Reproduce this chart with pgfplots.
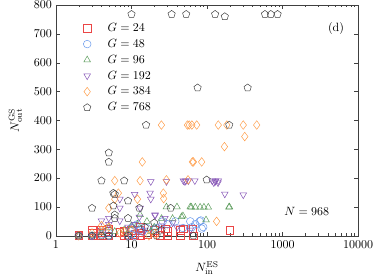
\documentclass[border=0pt]{standalone}
\usepackage{pgfplots}
\pgfplotsset{compat=1.18}
\definecolor{cred}{RGB}{235,70,70}
\definecolor{cblue}{RGB}{100,150,235}
\definecolor{cgreen}{RGB}{90,155,90}
\definecolor{cpurple}{RGB}{130,80,180}
\definecolor{corange}{RGB}{255,155,70}
\definecolor{cgray}{RGB}{60,60,60}
\begin{document}
\begin{tikzpicture}
\begin{axis}[
  name=ax,
  scale only axis,
  width=252pt, height=192.5pt,
  xmode=log, xmin=1, xmax=10000,
  ymin=0, ymax=800,
  xtick={1,10,100,1000,10000},
  xticklabels={1,10,100,1000,10000},
  ytick={0,100,...,800},
  axis line style={black!75},
  tick style={black!75},
  major tick length=3.5pt, minor tick length=2pt,
  xlabel={$N^{\mathrm{ES}}_{\mathrm{in}}$},
  ylabel={$N^{\mathrm{GS}}_{\mathrm{out}}$},
  xlabel style={yshift=-4pt},
  ylabel style={yshift=3pt},
  legend style={draw=none, fill=none, at={(0.056,0.943)}, anchor=north west, row sep=0.9pt, font=\normalsize},
  legend cell align=left,
  legend image code/.code={\path (0cm,0cm) (0.82cm,0cm); \draw[mark repeat=2,mark phase=2] plot coordinates {(0cm,0cm)(0.3cm,0cm)(0.6cm,0cm)};},
  every axis plot/.append style={only marks, mark size=3.2pt, thin},
]
\addplot[cred, mark=square] coordinates {
(2,0)(2,2)(3,0)(3,10)(3,20)(4,0)(4,10)(4,20)(5,0)(5,15)(5,22)(7,12)(8,0)(8,15)(9,0)(10,20)(11,5)
(13,0)(13,10)(13,20)(13,30)(16,5)(20,10)(20,20)(24,3)(28,25)(30,0)(30,15)(44,0)(44,20)(48,25)
(66,0)(65,25)(200,20)};
\addlegendentry{$G=24$}
\addplot[cblue, mark=o] coordinates {
(2,0)(3,0)(4,5)(5,0)(5,10)(9,0)(10,5)(11,0)(10,27)(11,35)(12,40)(13,20)(14,15)(16,27)(20,20)(21,27)
(26,50)(30,40)(38,50)(48,27)(60,50)(63,30)(70,40)(80,50)(83,53)(85,25)(89,30)};
\addlegendentry{$G=48$}
\addplot[cgreen, mark=triangle] coordinates {
(2,0)(3,0)(4,10)(5,30)(6,15)(8,20)(9,10)(10,35)(12,40)(13,73)(16,50)(18,15)(20,30)(25,60)(29,100)
(35,60)(40,100)(46,66)(48,69)(60,100)(62,99)(70,99)(81,99)(91,99)(97,55)(104,99)(195,99)(198,100)};
\addlegendentry{$G=96$}
\addplot[cpurple, mark=triangle, mark options={rotate=180}] coordinates {
(2,0)(3,0)(4,52)(4,20)(5,61)(5,40)(7,52)(7,96)(7,127)(9,30)(11,144)(11,40)(12.7,65)(13,96)(15,20)
(17.6,148)(18,127)(18,188)(20.5,70)(20.5,73)(25,35)(27.7,61)(29,188)(35,45)(40,30)(48.6,191)(51,188)
(52.5,191)(56.7,191)(60,20)(69,191)(117,191)(123,184)(128,188)(130,191)(140,184)(141,191)(172,145)(302,142)};
\addlegendentry{$G=192$}
\addplot[corange, mark=diamond, mark size=3.6pt] coordinates {
(2,0)(3,10)(4,20)(4,35)(5,96)(5,30)(6,191)(6,127)(6.7,148)(7,10)(8,15)(10,20)(12,127)(13,191)(13.9,256)
(17,0)(21,5)(24.9,384)(26.4,148)(26.7,129)(29,194)(55,384)(56,194)(58,384)(63,384)(64,256)(66,256)
(73,384)(85,256)(134,50)(141,384)(170,309)(183,384)(302,384)(316,344)(455,384)};
\addlegendentry{$G=384$}
\addplot[cgray, mark=pentagon] coordinates {
(2,0)(3,0)(3,96)(4,0)(4,191)(5,0)(5,288)(5,256)(5.75,148)(5.75,104)(6,73)(6,61)(6,144)(8,191)(9,0)
(9,121)(9,61)(10,768)(12.7,96)(15,30)(15.6,384)(20,45)(21.5,0)(25,20)(33,96)(34,768)(53,768)(66,0)
(75,513)(99,194)(128,768)(172,760)(197,384)(345,513)(585,768)(700,768)(860,768)};
\addlegendentry{$G=768$}
\node at (rel axis cs:0.927,0.90) {(d)};
\node at (rel axis cs:0.83,0.105) {$N=968$};
\end{axis}
\pgfresetboundingbox
\path (ax.south west) ++(-46.7pt,-35pt) coordinate (bl);
\path (ax.north east) ++(13.3pt,4.2pt) coordinate (tr);
\path[use as bounding box] (bl) rectangle (tr);
\end{tikzpicture}
\end{document}
